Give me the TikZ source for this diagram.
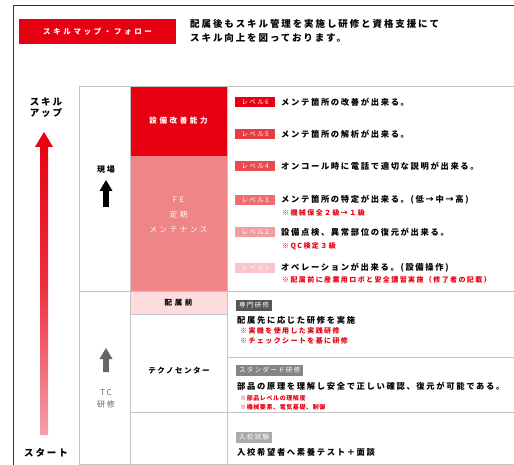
\documentclass[tikz,border=0pt]{standalone}
\usepackage{fontspec}
\setmainfont{Noto Sans CJK JP}
\newfontfamily\jp[LetterSpace=20]{Noto Sans CJK JP}
\newfontfamily\jpn[LetterSpace=10]{Noto Sans CJK JP}
\newfontfamily\jpw[LetterSpace=35]{Noto Sans CJK JP}
\definecolor{mainred}{HTML}{E60012}
\definecolor{lvfive}{HTML}{E73C41}
\definecolor{lvfour}{HTML}{EA4B50}
\definecolor{lvthree}{HTML}{EE6D72}
\definecolor{lvtwo}{HTML}{F49DA0}
\definecolor{lvone}{HTML}{F8C6C8}
\definecolor{colpink}{HTML}{F08587}
\definecolor{lightpink}{HTML}{FCDCDD}
\definecolor{gridgray}{HTML}{C4C4C4}
\definecolor{framegray}{HTML}{333333}
\definecolor{notered}{HTML}{E60012}
\definecolor{tagdark}{HTML}{555555}
\definecolor{tagmid}{HTML}{858585}
\definecolor{taglight}{HTML}{ABABAB}
\definecolor{arrowgray}{HTML}{666666}
\definecolor{arrowlow}{HTML}{F4A0AA}
\definecolor{arrowmid}{HTML}{EC2E3E}
\begin{document}
\begin{tikzpicture}[x=1pt,y=-1pt,
  txt/.style={inner sep=0pt, anchor=west, font=\jp\bfseries\fontsize{8.3}{9}\selectfont},
  note/.style={inner sep=0pt, anchor=west, text=notered, font=\jp\bfseries\fontsize{7}{8}\selectfont},
  smallnote/.style={inner sep=0pt, anchor=west, text=notered, font=\jpn\bfseries\fontsize{6}{7}\selectfont},
  lvbox/.style={fill=#1, text=white, minimum width=40pt, minimum height=10pt, inner sep=0pt, anchor=west, font=\jp\fontsize{6.5}{7}\selectfont},
  tagbox/.style={fill=#1, text=white, minimum height=11pt, inner xsep=3pt, inner ysep=0pt, anchor=west, font=\jp\fontsize{6.5}{7}\selectfont},
  coltxt/.style={inner sep=0pt, font=\jpw\bfseries\fontsize{7.5}{9}\selectfont},
  sidetxt/.style={inner sep=0pt, font=\jp\bfseries\fontsize{8}{9}\selectfont},
  bigtxt/.style={inner sep=0pt, font=\jp\bfseries\fontsize{9.5}{11}\selectfont},
  grid/.style={draw=gridgray, line width=0.8pt}]
\useasboundingbox (0,0) rectangle (514,465);
\fill[white] (0,0) rectangle (514,465);

% outer frame
\draw[framegray, line width=1pt] (13,465) -- (13,6) -- (514,6);

% title
\node[fill=mainred, minimum width=157pt, minimum height=25pt, inner sep=0pt, text=white,
  font=\jpw\bfseries\fontsize{7.5}{9}\selectfont] (title) at (97.5,31.5) {スキルマップ・フォロー};
\node[inner sep=0pt, anchor=west, align=left, font=\jp\bfseries\fontsize{9.5}{14}\selectfont] (intro) at (190,31)
  {配属後もスキル管理を実施し研修と資格支援にて\\スキル向上を図っております。};

% column fills
\fill[mainred] (130,86) rectangle (227,156);
\fill[colpink] (130,156) rectangle (227,291);
\fill[lightpink] (130,291) rectangle (227,314);

% grid
\draw[grid] (79,86) -- (514,86);
\draw[grid] (79,464) -- (514,464);
\draw[grid] (79,86) -- (79,464);
\draw[grid] (130,86) -- (130,464);
\draw[grid] (227,86) -- (227,464);
\draw[grid] (79,291) -- (514,291);
\draw[grid] (130,314) -- (227,314);
\draw[grid] (227,357) -- (514,357);
\draw[grid] (130,412) -- (514,412);

% big arrow
\shade[top color=mainred, bottom color=arrowlow, middle color=arrowmid]
  (44,132) -- (53,147) -- (48,147) -- (48,435) -- (40,435) -- (40,147) -- (35,147) -- cycle;
\node[bigtxt, align=center] (skillup) at (46,108) {スキル\\アップ};
\node[bigtxt] (start) at (46,453) {スタート};

% column 1
\node[sidetxt] (genba) at (106,170) {現場};
\fill[black] (106,180) -- (112.5,191) -- (108.8,191) -- (108.8,207) -- (103.2,207) -- (103.2,191) -- (99.5,191) -- cycle;
\fill[arrowgray] (106,348) -- (112.5,359) -- (108.8,359) -- (108.8,372) -- (103.2,372) -- (103.2,359) -- (99.5,359) -- cycle;
\node[sidetxt, text=arrowgray, align=center, font=\jp\fontsize{8}{11.5}\selectfont] (tc) at (106,399) {TC\\研修};

% column 3 texts
\node[coltxt, text=white] (kaizen) at (178.5,121) {設備改善能力};
\node[coltxt, text=white, align=center, font=\jpw\fontsize{7.5}{15}\selectfont] (fe) at (178.5,214.5) {FE\\定期\\メンテナンス};
\node[coltxt] (haizoku) at (178.5,302.5) {配属前};
\node[coltxt, font=\jp\bfseries\fontsize{7.5}{9}\selectfont] (techno) at (179,371) {テクノセンター};

% levels
\node[lvbox=mainred] (l6) at (235,102) {レベル6};
\node[txt] (t6) at (281,102) {メンテ箇所の改善が出来る。};
\node[lvbox=lvfive] (l5) at (235,134) {レベル5};
\node[txt] (t5) at (281,134) {メンテ箇所の解析が出来る。};
\node[lvbox=lvfour] (l4) at (235,166) {レベル4};
\node[txt] (t4) at (281,166) {オンコール時に電話で適切な説明が出来る。};
\node[lvbox=lvthree] (l3) at (235,200) {レベル3};
\node[txt] (t3) at (281,200) {メンテ箇所の特定が出来る。(低→中→高)};
\node[note] (n3) at (282,213) {※機械保全２級→１級};
\node[lvbox=lvtwo] (l2) at (235,232) {レベル2};
\node[txt] (t2) at (281,232) {設備点検、異常部位の復元が出来る。};
\node[note] (n2) at (282,246.5) {※QC検定３級};
\node[lvbox=lvone] (l1) at (235,268) {レベル1};
\node[txt] (t1) at (281,268) {オペレーションが出来る。(設備操作)};
\node[note] (n1) at (282,280) {※配属前に産業用ロボと安全講習実施（修了者の記載）};

% training rows
\node[tagbox=tagdark] (tag1) at (236,305.5) {専門研修};
\node[txt] (r1) at (237,320) {配属先に応じた研修を実施};
\node[note] (r1a) at (240,330.5) {※実機を使用した実践研修};
\node[note] (r1b) at (240,341) {※チェックシートを基に研修};
\node[tagbox=tagmid] (tag2) at (236,370) {スタンダード研修};
\node[txt] (r2) at (237,386) {部品の原理を理解し安全で正しい確認、復元が可能である。};
\node[smallnote] (r2a) at (240,398.5) {※部品レベルの理解度};
\node[smallnote] (r2b) at (240,407.5) {※機械要素、電気基礎、制御};
\node[tagbox=taglight] (tag3) at (236,437) {入校試験};
\node[txt] (r3) at (237,452) {入校希望者へ素養テスト＋面談};
\end{tikzpicture}
\end{document}
